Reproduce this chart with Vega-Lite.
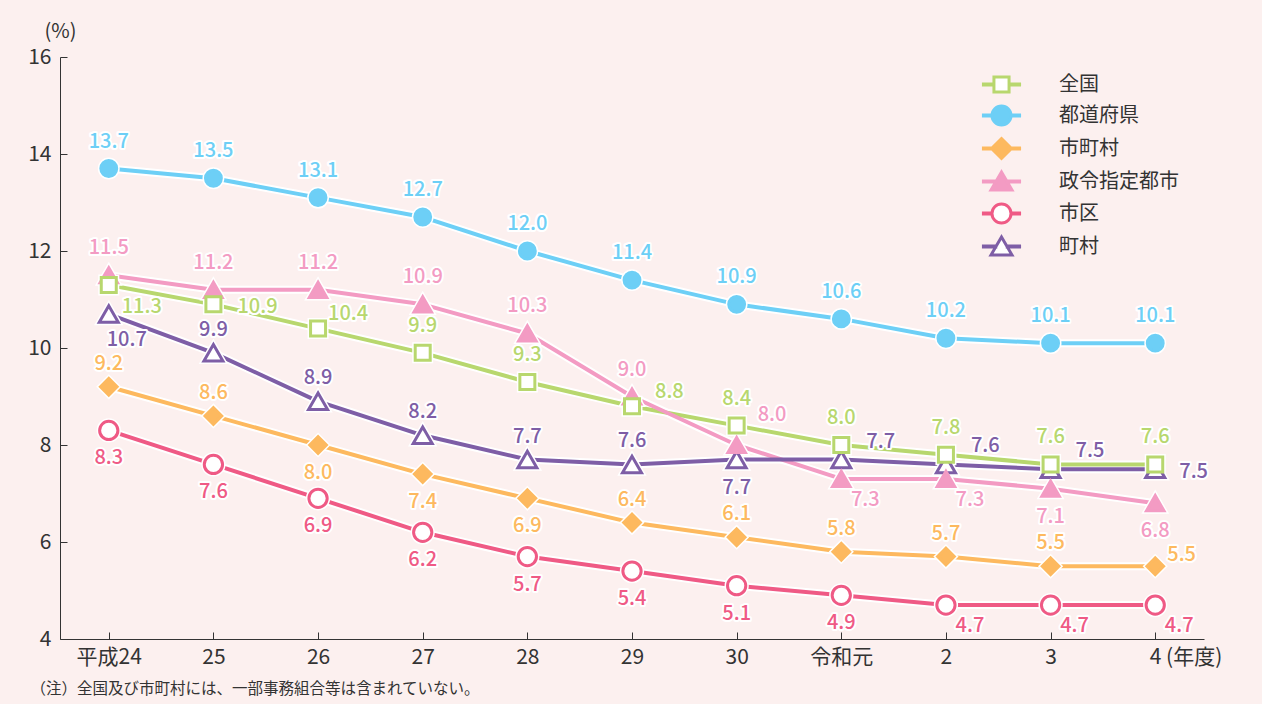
{
"$schema": "https://vega.github.io/schema/vega-lite/v6.json",
"width": 1144, "height": 582,
"autosize": {"type": "none"},
"padding": {"left": 60, "top": 57, "right": 58, "bottom": 65},
"background": "#fcf0ef",
"config": {"view": {"stroke": null}, "font": "Noto Sans CJK JP"},
"data": {"values": [
{"s":"全国","x":"平成24","v":11.3},{"s":"全国","x":"25","v":10.9},{"s":"全国","x":"26","v":10.4},{"s":"全国","x":"27","v":9.9},{"s":"全国","x":"28","v":9.3},{"s":"全国","x":"29","v":8.8},{"s":"全国","x":"30","v":8.4},{"s":"全国","x":"令和元","v":8.0},{"s":"全国","x":"2","v":7.8},{"s":"全国","x":"3","v":7.6},{"s":"全国","x":"4","v":7.6},
{"s":"都道府県","x":"平成24","v":13.7},{"s":"都道府県","x":"25","v":13.5},{"s":"都道府県","x":"26","v":13.1},{"s":"都道府県","x":"27","v":12.7},{"s":"都道府県","x":"28","v":12.0},{"s":"都道府県","x":"29","v":11.4},{"s":"都道府県","x":"30","v":10.9},{"s":"都道府県","x":"令和元","v":10.6},{"s":"都道府県","x":"2","v":10.2},{"s":"都道府県","x":"3","v":10.1},{"s":"都道府県","x":"4","v":10.1},
{"s":"市町村","x":"平成24","v":9.2},{"s":"市町村","x":"25","v":8.6},{"s":"市町村","x":"26","v":8.0},{"s":"市町村","x":"27","v":7.4},{"s":"市町村","x":"28","v":6.9},{"s":"市町村","x":"29","v":6.4},{"s":"市町村","x":"30","v":6.1},{"s":"市町村","x":"令和元","v":5.8},{"s":"市町村","x":"2","v":5.7},{"s":"市町村","x":"3","v":5.5},{"s":"市町村","x":"4","v":5.5},
{"s":"政令指定都市","x":"平成24","v":11.5},{"s":"政令指定都市","x":"25","v":11.2},{"s":"政令指定都市","x":"26","v":11.2},{"s":"政令指定都市","x":"27","v":10.9},{"s":"政令指定都市","x":"28","v":10.3},{"s":"政令指定都市","x":"29","v":9.0},{"s":"政令指定都市","x":"30","v":8.0},{"s":"政令指定都市","x":"令和元","v":7.3},{"s":"政令指定都市","x":"2","v":7.3},{"s":"政令指定都市","x":"3","v":7.1},{"s":"政令指定都市","x":"4","v":6.8},
{"s":"市区","x":"平成24","v":8.3},{"s":"市区","x":"25","v":7.6},{"s":"市区","x":"26","v":6.9},{"s":"市区","x":"27","v":6.2},{"s":"市区","x":"28","v":5.7},{"s":"市区","x":"29","v":5.4},{"s":"市区","x":"30","v":5.1},{"s":"市区","x":"令和元","v":4.9},{"s":"市区","x":"2","v":4.7},{"s":"市区","x":"3","v":4.7},{"s":"市区","x":"4","v":4.7},
{"s":"町村","x":"平成24","v":10.7},{"s":"町村","x":"25","v":9.9},{"s":"町村","x":"26","v":8.9},{"s":"町村","x":"27","v":8.2},{"s":"町村","x":"28","v":7.7},{"s":"町村","x":"29","v":7.6},{"s":"町村","x":"30","v":7.7},{"s":"町村","x":"令和元","v":7.7},{"s":"町村","x":"2","v":7.6},{"s":"町村","x":"3","v":7.5},{"s":"町村","x":"4","v":7.5}
]},
"transform": [
{"calculate": "datum.s + '|' + datum.x", "as": "k"},
{"calculate": "indexof(['平成24','25','26','27','28','29','30','令和元','2','3','4'], datum.x)", "as": "i"},
{"calculate": "indexof(['都道府県','市町村','市区','町村','政令指定都市','全国'], datum.s)", "as": "z"}
],
"resolve": {"scale": {"shape": "independent", "fill": "independent", "stroke": "independent"}},
"encoding": {
"x": {"field": "x", "type": "ordinal",
 "scale": {"domain": ["平成24","25","26","27","28","29","30","令和元","2","3","4"], "padding": 0.466},
 "axis": {"title": "（注）全国及び市町村には、一部事務組合等は含まれていない。", "titleX": -30, "titleY": 49, "titleAlign": "left", "titleAnchor": "start", "titleBaseline": "middle", "titleFontSize": 15.5, "titleFontWeight": "normal", "titleColor": "#333333",
  "labelAngle": 0, "labelFontSize": 21, "labelColor": "#333333", "labelPadding": 14, "tickSize": -7, "tickColor": "#333333", "domainColor": "#333333",
  "labelExpr": "datum.value == '4' ? '4 (年度)' : datum.label",
  "labelAlign": {"condition": {"test": "datum.value == '4'", "value": "left"}, "value": "center"},
  "labelOffset": {"condition": {"test": "datum.value == '4'", "value": -6}, "value": 0}}},
"y": {"field": "v", "type": "quantitative",
 "scale": {"domain": [4, 16], "nice": false, "zero": false},
 "axis": {"values": [4,6,8,10,12,14,16], "grid": false, "title": "(%)", "titleAngle": 0, "titleX": 0, "titleY": -26, "titleAlign": "center", "titleBaseline": "middle", "titleFontSize": 20, "titleFontWeight": "normal", "titleColor": "#333333",
  "labelFontSize": 21, "labelColor": "#333333", "labelPadding": 16, "tickSize": -7, "tickColor": "#333333", "domainColor": "#333333"}}
},
"layer": [
{"mark": {"type": "line", "stroke": "white", "strokeWidth": 8, "strokeJoin": "round"},
 "encoding": {"detail": {"field": "s"}, "order": {"field": "i"}}},
{"mark": {"type": "line", "strokeWidth": 4, "strokeJoin": "round"},
 "encoding": {"order": {"field": "i"},
  "stroke": {"field": "s", "type": "nominal",
   "scale": {"domain": ["全国","都道府県","市町村","政令指定都市","市区","町村"], "range": ["#b8d76e","#6dcff6","#fdb95f","#f39bc3","#ef5a85","#7e5ea6"]}, "legend": null}}},
{"mark": {"type": "point", "filled": true, "fill": "white", "stroke": "white", "strokeWidth": 6, "opacity": 1},
 "encoding": {"order": {"field": "z"},
  "shape": {"field": "s", "type": "nominal", "scale": {"domain": ["全国","都道府県","市町村","政令指定都市","市区","町村"], "range": ["square","circle","diamond","triangle-up","circle","triangle-up"]}, "legend": null},
  "size": {"field": "s", "type": "ordinal", "scale": {"domain": ["全国","都道府県","市町村","政令指定都市","市区","町村"], "range": [225,361,361,256,350,361]}, "legend": null}}},
{"mark": {"type": "point", "strokeWidth": 3, "opacity": 1, "fillOpacity": 1, "strokeOpacity": 1},
 "encoding": {"order": {"field": "z"},
  "shape": {"field": "s", "type": "nominal", "scale": {"domain": ["全国","都道府県","市町村","政令指定都市","市区","町村"], "range": ["square","circle","diamond","triangle-up","circle","triangle-up"]}, "legend": null},
  "size": {"field": "s", "type": "ordinal", "scale": {"domain": ["全国","都道府県","市町村","政令指定都市","市区","町村"], "range": [225,361,361,256,350,361]}, "legend": null},
  "fill": {"field": "s", "type": "nominal", "scale": {"domain": ["全国","都道府県","市町村","政令指定都市","市区","町村"], "range": ["white","#6dcff6","#fdb95f","#f39bc3","white","white"]}, "legend": null},
  "stroke": {"field": "s", "type": "nominal",
   "scale": {"domain": ["全国","都道府県","市町村","政令指定都市","市区","町村"], "range": ["#b8d76e","#6dcff6","#fdb95f","#f39bc3","#ef5a85","#7e5ea6"]}, "legend": null}}},
{"transform": [{"filter": "false"}],
 "mark": {"type": "point", "strokeWidth": 3, "opacity": 1, "fillOpacity": 1, "strokeOpacity": 1},
 "encoding": {
  "shape": {"field": "s", "type": "nominal",
   "scale": {"domain": ["全国","都道府県","市町村","政令指定都市","市区","町村"],
    "range": [
     "M-1.29,-0.04H-0.61V0.04H-1.29Z M0.61,-0.04H1.29V0.04H0.61Z M-0.54,-0.54H0.54V0.54H-0.54Z",
     "M-1.29,-0.04H-0.71V0.04H-1.29Z M0.71,-0.04H1.29V0.04H0.71Z M0.68,0A0.68,0.68,0,1,1,-0.68,0A0.68,0.68,0,1,1,0.68,0Z",
     "M-1.29,-0.04H-0.71V0.04H-1.29Z M0.71,-0.04H1.29V0.04H0.71Z M0,-0.71L0.71,0L0,0.71L-0.71,0Z",
     "M-1.29,-0.04H-0.41V0.04H-1.29Z M0.41,-0.04H1.29V0.04H0.41Z M0,-0.68L0.75,0.61L-0.75,0.61Z",
     "M-1.29,-0.04H-0.71V0.04H-1.29Z M0.71,-0.04H1.29V0.04H0.71Z M0.68,0A0.68,0.68,0,1,1,-0.68,0A0.68,0.68,0,1,1,0.68,0Z",
     "M-1.29,-0.04H-0.41V0.04H-1.29Z M0.41,-0.04H1.29V0.04H0.41Z M0,-0.68L0.75,0.61L-0.75,0.61Z"]},
   "legend": {"orient": "none", "legendX": 926, "legendY": 12, "title": null, "padding": 0, "symbolSize": 784, "symbolStrokeWidth": 3, "labelFontSize": 20, "labelColor": "#333333", "labelOffset": 42, "rowPadding": 0}},
  "fill": {"field": "s", "type": "nominal", "scale": {"domain": ["全国","都道府県","市町村","政令指定都市","市区","町村"], "range": ["white","#6dcff6","#fdb95f","#f39bc3","white","white"]}},
  "stroke": {"field": "s", "type": "nominal",
   "scale": {"domain": ["全国","都道府県","市町村","政令指定都市","市区","町村"], "range": ["#b8d76e","#6dcff6","#fdb95f","#f39bc3","#ef5a85","#7e5ea6"]}}}},
{"transform": [{"filter": "(datum.s=='全国' || datum.s=='都道府県' || datum.s=='政令指定都市') && indexof(['全国|平成24','全国|25','全国|26','全国|29','政令指定都市|30','政令指定都市|令和元','政令指定都市|2','政令指定都市|3','政令指定都市|4'], datum.k) < 0"}],
 "encoding": {"text": {"field": "v", "type": "quantitative", "format": ".1f"}},
 "layer": [
  {"mark": {"type": "text", "dy": -27, "fontSize": 20, "fontWeight": 500, "fill": "white", "stroke": "white", "strokeWidth": 4, "strokeJoin": "round"}},
  {"mark": {"type": "text", "dy": -27, "fontSize": 20, "fontWeight": 500}, "encoding": {"color": {"field": "s", "type": "nominal", "scale": {"domain": ["全国","都道府県","市町村","政令指定都市","市区","町村"], "range": ["#b8d76e","#6dcff6","#fdb95f","#f39bc3","#ef5a85","#7e5ea6"]}, "legend": null}}}]},
{"transform": [{"filter": "(datum.s=='市町村' || datum.s=='町村') && indexof(['市町村|26','市町村|27','市町村|28','市町村|4','町村|平成24','町村|30','町村|令和元','町村|2','町村|3','町村|4'], datum.k) < 0"}],
 "encoding": {"text": {"field": "v", "type": "quantitative", "format": ".1f"}},
 "layer": [
  {"mark": {"type": "text", "dy": -23, "fontSize": 20, "fontWeight": 500, "fill": "white", "stroke": "white", "strokeWidth": 4, "strokeJoin": "round"}},
  {"mark": {"type": "text", "dy": -23, "fontSize": 20, "fontWeight": 500}, "encoding": {"color": {"field": "s", "type": "nominal", "scale": {"domain": ["全国","都道府県","市町村","政令指定都市","市区","町村"], "range": ["#b8d76e","#6dcff6","#fdb95f","#f39bc3","#ef5a85","#7e5ea6"]}, "legend": null}}}]},
{"transform": [{"filter": "(datum.s=='市区' && datum.i<=7) || indexof(['市町村|26','市町村|27','市町村|28','町村|30','政令指定都市|3','政令指定都市|4'], datum.k) >= 0"}],
 "encoding": {"text": {"field": "v", "type": "quantitative", "format": ".1f"}},
 "layer": [
  {"mark": {"type": "text", "dy": 28, "fontSize": 20, "fontWeight": 500, "fill": "white", "stroke": "white", "strokeWidth": 4, "strokeJoin": "round"}},
  {"mark": {"type": "text", "dy": 28, "fontSize": 20, "fontWeight": 500}, "encoding": {"color": {"field": "s", "type": "nominal", "scale": {"domain": ["全国","都道府県","市町村","政令指定都市","市区","町村"], "range": ["#b8d76e","#6dcff6","#fdb95f","#f39bc3","#ef5a85","#7e5ea6"]}, "legend": null}}}]},
{"transform": [{"filter": "(datum.s=='市区' && datum.i>=8) || indexof(['政令指定都市|令和元','政令指定都市|2'], datum.k) >= 0"}],
 "encoding": {"text": {"field": "v", "type": "quantitative", "format": ".1f"}},
 "layer": [
  {"mark": {"type": "text", "dx": 24, "dy": 21, "fontSize": 20, "fontWeight": 500, "fill": "white", "stroke": "white", "strokeWidth": 4, "strokeJoin": "round"}},
  {"mark": {"type": "text", "dx": 24, "dy": 21, "fontSize": 20, "fontWeight": 500}, "encoding": {"color": {"field": "s", "type": "nominal", "scale": {"domain": ["全国","都道府県","市町村","政令指定都市","市区","町村"], "range": ["#b8d76e","#6dcff6","#fdb95f","#f39bc3","#ef5a85","#7e5ea6"]}, "legend": null}}}]},
{"transform": [{"filter": "datum.k == '町村|平成24'"}],
 "encoding": {"text": {"field": "v", "type": "quantitative", "format": ".1f"}},
 "layer": [
  {"mark": {"type": "text", "dx": 18, "dy": 26, "fontSize": 20, "fontWeight": 500, "fill": "white", "stroke": "white", "strokeWidth": 4, "strokeJoin": "round"}},
  {"mark": {"type": "text", "dx": 18, "dy": 26, "fontSize": 20, "fontWeight": 500}, "encoding": {"color": {"field": "s", "type": "nominal", "scale": {"domain": ["全国","都道府県","市町村","政令指定都市","市区","町村"], "range": ["#b8d76e","#6dcff6","#fdb95f","#f39bc3","#ef5a85","#7e5ea6"]}, "legend": null}}}]},
{"transform": [{"filter": "datum.k == '全国|平成24'"}],
 "encoding": {"text": {"field": "v", "type": "quantitative", "format": ".1f"}},
 "layer": [
  {"mark": {"type": "text", "dx": 33, "dy": 22, "fontSize": 20, "fontWeight": 500, "fill": "white", "stroke": "white", "strokeWidth": 4, "strokeJoin": "round"}},
  {"mark": {"type": "text", "dx": 33, "dy": 22, "fontSize": 20, "fontWeight": 500}, "encoding": {"color": {"field": "s", "type": "nominal", "scale": {"domain": ["全国","都道府県","市町村","政令指定都市","市区","町村"], "range": ["#b8d76e","#6dcff6","#fdb95f","#f39bc3","#ef5a85","#7e5ea6"]}, "legend": null}}}]},
{"transform": [{"filter": "indexof(['全国|25','町村|4'], datum.k) >= 0"}],
 "encoding": {"text": {"field": "v", "type": "quantitative", "format": ".1f"}},
 "layer": [
  {"mark": {"type": "text", "align": "left", "dx": 24, "dy": 3, "fontSize": 20, "fontWeight": 500, "fill": "white", "stroke": "white", "strokeWidth": 4, "strokeJoin": "round"}},
  {"mark": {"type": "text", "align": "left", "dx": 24, "dy": 3, "fontSize": 20, "fontWeight": 500}, "encoding": {"color": {"field": "s", "type": "nominal", "scale": {"domain": ["全国","都道府県","市町村","政令指定都市","市区","町村"], "range": ["#b8d76e","#6dcff6","#fdb95f","#f39bc3","#ef5a85","#7e5ea6"]}, "legend": null}}}]},
{"transform": [{"filter": "datum.k == '市町村|4'"}],
 "encoding": {"text": {"field": "v", "type": "quantitative", "format": ".1f"}},
 "layer": [
  {"mark": {"type": "text", "align": "left", "dx": 12, "dy": -11, "fontSize": 20, "fontWeight": 500, "fill": "white", "stroke": "white", "strokeWidth": 4, "strokeJoin": "round"}},
  {"mark": {"type": "text", "align": "left", "dx": 12, "dy": -11, "fontSize": 20, "fontWeight": 500}, "encoding": {"color": {"field": "s", "type": "nominal", "scale": {"domain": ["全国","都道府県","市町村","政令指定都市","市区","町村"], "range": ["#b8d76e","#6dcff6","#fdb95f","#f39bc3","#ef5a85","#7e5ea6"]}, "legend": null}}}]},
{"transform": [{"filter": "indexof(['町村|令和元','町村|2','町村|3'], datum.k) >= 0"}],
 "encoding": {"text": {"field": "v", "type": "quantitative", "format": ".1f"}},
 "layer": [
  {"mark": {"type": "text", "align": "left", "dx": 25, "dy": -18, "fontSize": 20, "fontWeight": 500, "fill": "white", "stroke": "white", "strokeWidth": 4, "strokeJoin": "round"}},
  {"mark": {"type": "text", "align": "left", "dx": 25, "dy": -18, "fontSize": 20, "fontWeight": 500}, "encoding": {"color": {"field": "s", "type": "nominal", "scale": {"domain": ["全国","都道府県","市町村","政令指定都市","市区","町村"], "range": ["#b8d76e","#6dcff6","#fdb95f","#f39bc3","#ef5a85","#7e5ea6"]}, "legend": null}}}]},
{"transform": [{"filter": "datum.k == '全国|29'"}],
 "encoding": {"text": {"field": "v", "type": "quantitative", "format": ".1f"}},
 "layer": [
  {"mark": {"type": "text", "align": "left", "dx": 23, "dy": -14, "fontSize": 20, "fontWeight": 500, "fill": "white", "stroke": "white", "strokeWidth": 4, "strokeJoin": "round"}},
  {"mark": {"type": "text", "align": "left", "dx": 23, "dy": -14, "fontSize": 20, "fontWeight": 500}, "encoding": {"color": {"field": "s", "type": "nominal", "scale": {"domain": ["全国","都道府県","市町村","政令指定都市","市区","町村"], "range": ["#b8d76e","#6dcff6","#fdb95f","#f39bc3","#ef5a85","#7e5ea6"]}, "legend": null}}}]},
{"transform": [{"filter": "datum.k == '全国|26'"}],
 "encoding": {"text": {"field": "v", "type": "quantitative", "format": ".1f"}},
 "layer": [
  {"mark": {"type": "text", "align": "left", "dx": 10, "dy": -15, "fontSize": 20, "fontWeight": 500, "fill": "white", "stroke": "white", "strokeWidth": 4, "strokeJoin": "round"}},
  {"mark": {"type": "text", "align": "left", "dx": 10, "dy": -15, "fontSize": 20, "fontWeight": 500}, "encoding": {"color": {"field": "s", "type": "nominal", "scale": {"domain": ["全国","都道府県","市町村","政令指定都市","市区","町村"], "range": ["#b8d76e","#6dcff6","#fdb95f","#f39bc3","#ef5a85","#7e5ea6"]}, "legend": null}}}]},
{"transform": [{"filter": "datum.k == '政令指定都市|30'"}],
 "encoding": {"text": {"field": "v", "type": "quantitative", "format": ".1f"}},
 "layer": [
  {"mark": {"type": "text", "align": "left", "dx": 21, "dy": -30, "fontSize": 20, "fontWeight": 500, "fill": "white", "stroke": "white", "strokeWidth": 4, "strokeJoin": "round"}},
  {"mark": {"type": "text", "align": "left", "dx": 21, "dy": -30, "fontSize": 20, "fontWeight": 500}, "encoding": {"color": {"field": "s", "type": "nominal", "scale": {"domain": ["全国","都道府県","市町村","政令指定都市","市区","町村"], "range": ["#b8d76e","#6dcff6","#fdb95f","#f39bc3","#ef5a85","#7e5ea6"]}, "legend": null}}}]}
]
}
